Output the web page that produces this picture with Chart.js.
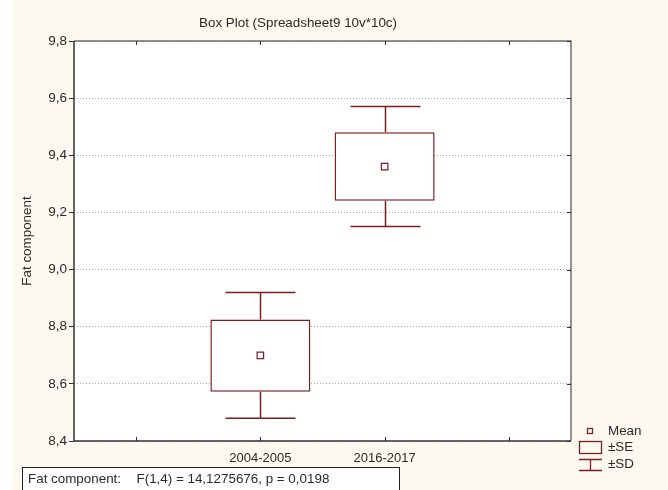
<!DOCTYPE html>
<html>
<head>
<meta charset="utf-8">
<script src="https://cdn.jsdelivr.net/npm/chart.js@4.4.0/dist/chart.umd.min.js"></script>
<style>
  html, body { margin: 0; padding: 0; background: #fff; }
  #wrap { width: 668px; height: 490px; position: relative; }
</style>
</head>
<body>
<div id="wrap"><canvas id="boxChart" width="668" height="490"></canvas></div>
<script>
// values (empty slots left and right of the two groups)
const categories = ['', '2004-2005', '2016-2017', ''];
const means  = [null, 8.70, 9.36, null];
const seLow  = [null, 8.572, 9.241, null];
const seHigh = [null, 8.825, 9.481, null];
const sdLow  = [null, 8.48, 9.151, null];
const sdHigh = [null, 8.92, 9.571, null];
const yTicks = [8.4, 8.6, 8.8, 9.0, 9.2, 9.4, 9.6, 9.8];

const titleText = 'Box Plot (Spreadsheet9 10v*10c)';
const yTitle = 'Fat component';
const footLabel = 'Fat component:';
const footStat = 'F(1,4) = 14,1275676, p = 0,0198';
const legendLabels = ['Mean', '±SE', '±SD'];

const RED = '#7a1e1e';
const CREAM = '#fdf9f0';
const TXT = '#2a2a2a';
const FONT = "'Liberation Sans', Arial, sans-serif";

/*************************************************************************/
// background, plot area, title
const backPlugin = {
  id: 'back',
  beforeDraw(chart) {
    const c = chart.ctx, a = chart.chartArea;
    c.save();
    c.fillStyle = CREAM;
    c.fillRect(13, 0, chart.width - 13, chart.height);
    c.fillStyle = '#fff';
    c.fillRect(a.left, a.top, a.right - a.left, a.bottom - a.top);
    c.fillStyle = TXT;
    c.font = '13.4px ' + FONT;
    c.textAlign = 'center';
    c.textBaseline = 'middle';
    c.fillText(titleText, 298, 23);
    c.restore();
  }
};

// whiskers for +-SD
const whiskerPlugin = {
  id: 'whisker',
  afterDatasetsDraw(chart) {
    const c = chart.ctx, xs = chart.scales.x, ys = chart.scales.y;
    c.save();
    c.strokeStyle = RED;
    c.lineWidth = 1.5;
    for (let i = 0; i < categories.length; i++) {
      if (sdHigh[i] == null) continue;
      const x = Math.round(xs.getPixelForValue(i)) + 0.5;
      const pairs = [[seHigh[i], sdHigh[i]], [seLow[i], sdLow[i]]];
      pairs.forEach(p => {
        const y0 = ys.getPixelForValue(p[0]);
        const y1 = ys.getPixelForValue(p[1]);
        c.beginPath();
        c.moveTo(x, y0); c.lineTo(x, y1);
        c.moveTo(x - 35, y1); c.lineTo(x + 35, y1);
        c.stroke();
      });
    }
    c.restore();
  }
};

// frame, inner tick marks, legend and footer
const framePlugin = {
  id: 'frame',
  afterDraw(chart) {
    const c = chart.ctx, a = chart.chartArea, xs = chart.scales.x, ys = chart.scales.y;
    c.save();
    c.lineWidth = 1.5;
    c.strokeStyle = '#6e6e6e';
    c.beginPath();
    c.moveTo(a.left, a.top); c.lineTo(a.right, a.top); c.lineTo(a.right, a.bottom);
    c.stroke();
    c.strokeStyle = '#333';
    c.beginPath();
    c.moveTo(a.left, a.top); c.lineTo(a.left, a.bottom); c.lineTo(a.right, a.bottom);
    c.stroke();

    c.lineWidth = 1;
    c.beginPath();
    for (let i = 0; i < categories.length; i++) {
      const x = Math.round(xs.getPixelForTick(i)) + 0.5;
      c.moveTo(x, a.bottom); c.lineTo(x, a.bottom - 4);
      c.moveTo(x, a.top); c.lineTo(x, a.top + 4);
    }
    yTicks.forEach(v => {
      const y = Math.round(ys.getPixelForValue(v)) + 0.5;
      c.moveTo(a.right, y); c.lineTo(a.right - 4, y);
    });
    c.stroke();

    // legend
    c.strokeStyle = RED;
    c.lineWidth = 1.3;
    c.strokeRect(587.5, 428.5, 5, 5);
    c.strokeRect(579.5, 441.5, 22, 12);
    c.beginPath();
    c.moveTo(579, 459.5); c.lineTo(602, 459.5);
    c.moveTo(590.5, 459.5); c.lineTo(590.5, 471);
    c.moveTo(579, 470.5); c.lineTo(602, 470.5);
    c.stroke();
    c.fillStyle = TXT;
    c.font = '13.4px ' + FONT;
    c.textAlign = 'left';
    c.textBaseline = 'middle';
    c.fillText(legendLabels[0], 608, 431);
    c.fillText(legendLabels[1], 608, 447);
    c.fillText(legendLabels[2], 608, 464);

    // footer box
    c.fillStyle = '#fff';
    c.fillRect(22.5, 467.5, 377, 30);
    c.strokeStyle = '#222';
    c.lineWidth = 1;
    c.strokeRect(22.5, 467.5, 377, 30);
    c.fillStyle = TXT;
    c.font = '13.4px ' + FONT;
    c.fillText(footLabel, 28, 479);
    c.fillText(footStat, 136.5, 479);
    c.restore();
  }
};

/*************************************************************************/
const ctx = document.getElementById('boxChart').getContext('2d');

window.boxChart = new Chart(ctx, {
  type: 'bar',
  data: {
    labels: categories,
    datasets: [
      {
        label: '±SE',
        data: seLow.map((l, i) => (l == null ? null : [l, seHigh[i]])),
        backgroundColor: '#fff',
        borderColor: RED,
        borderWidth: 1.5,
        borderSkipped: false,
        barPercentage: 0.805,
        categoryPercentage: 1,
        order: 2,
      },
      {
        type: 'line',
        label: 'Mean',
        data: means,
        showLine: false,
        pointStyle: 'rect',
        pointRadius: 4.6,
        pointBorderWidth: 1.2,
        pointBackgroundColor: '#fff',
        pointBorderColor: RED,
        order: 1,
      },
    ],
  },
  options: {
    responsive: false,
    animation: false,
    devicePixelRatio: 1,
    layout: { padding: { top: 41, right: 97, left: 0, bottom: 0 } },
    plugins: {
      legend: { display: false },
      title: { display: false },
      tooltip: { enabled: false },
    },
    scales: {
      x: {
        offset: true,
        afterFit: s => { s.height = 49; },
        grid: { display: false, drawTicks: false },
        border: { display: false },
        ticks: {
          color: TXT,
          padding: 10,
          maxRotation: 0,
          font: { size: 13, family: FONT },
        },
      },
      y: {
        min: 8.4,
        max: 9.8,
        afterFit: s => { s.width = 74; },
        afterBuildTicks: s => { s.ticks = yTicks.map(v => ({ value: v })); },
        grid: {
          color: '#a8a8a8',
          lineWidth: 1,
          tickLength: 5,
          tickColor: '#333',
          tickBorderDash: [],
        },
        border: { display: false, dash: [1, 2] },
        ticks: {
          color: TXT,
          padding: 2,
          font: { size: 13.5, family: FONT },
          callback: v => v.toFixed(1).replace('.', ','),
        },
        title: {
          display: true,
          text: yTitle,
          color: TXT,
          font: { size: 13.4, family: FONT },
          padding: { top: 19, bottom: 0 },
        },
      },
    },
  },
  plugins: [backPlugin, whiskerPlugin, framePlugin],
});
</script>
</body>
</html>
